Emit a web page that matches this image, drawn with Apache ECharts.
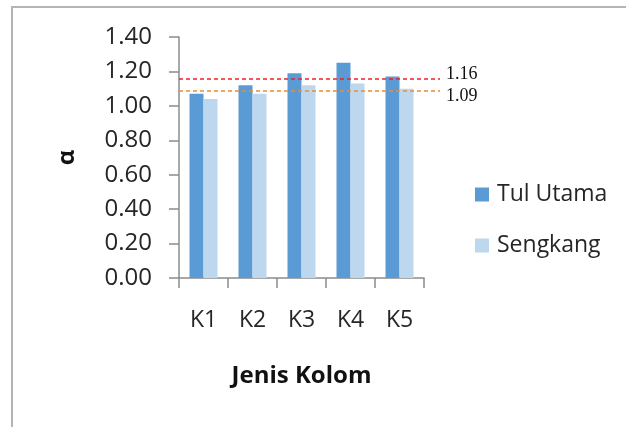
<!DOCTYPE html>
<html>
<head>
<meta charset="utf-8">
<script src="https://cdn.jsdelivr.net/npm/echarts@6/dist/echarts.min.js"></script>
<style>
  html, body { margin: 0; padding: 0; background: #ffffff; }
  #chart { width: 626px; height: 427px; }
</style>
</head>
<body>
<div id="chart"></div>
<script>
// Column types and the alpha factor for each reinforcement type
const categories = ['K1', 'K2', 'K3', 'K4', 'K5'];
const tulUtama = [1.07, 1.12, 1.19, 1.25, 1.17];
const sengkang = [1.04, 1.07, 1.12, 1.13, 1.10];
// Average reference levels drawn as dashed lines
const avgTulUtama = 1.16;
const avgSengkang = 1.09;
const yTicks = [0, 0.2, 0.4, 0.6, 0.8, 1.0, 1.2, 1.4];

const FONT = '"Open Sans", Lato, sans-serif';
const AXIS_COLOR = '#8c8c8c';
const yMax = yTicks[yTicks.length - 1];

const chart = echarts.init(document.getElementById('chart'), null, { renderer: 'canvas' });

chart.setOption({
  animation: false,
  backgroundColor: '#ffffff',
  graphic: [{
    type: 'rect',
    shape: { x: 12, y: 7, width: 800, height: 600 },
    style: { fill: 'none', stroke: '#b4b4b4', lineWidth: 2 },
    silent: true,
    z: 0
  }],
  grid: [
    { left: 179, right: 202, top: 37, bottom: 149 },
    // wider band used only for the average lines, which run past the plot
    { left: 179, right: 186, top: 37, bottom: 149 }
  ],
  legend: {
    data: ['Tul Utama', 'Sengkang'],
    orient: 'vertical',
    left: 470,
    top: 178,
    itemWidth: 14,
    itemHeight: 14,
    itemGap: 28,
    icon: 'rect',
    textStyle: { fontFamily: FONT, fontSize: 23, color: '#262626', padding: [0, 0, 0, 3] }
  },
  xAxis: [{
    type: 'category',
    gridIndex: 0,
    data: categories,
    name: 'Jenis Kolom',
    nameLocation: 'middle',
    nameGap: 86,
    nameTextStyle: { fontFamily: FONT, fontSize: 24, fontWeight: 'bold', color: '#111111' },
    axisLine: { lineStyle: { color: AXIS_COLOR, width: 1.5 } },
    axisTick: { show: true, length: 10, lineStyle: { color: AXIS_COLOR, width: 1.5 } },
    axisLabel: { fontFamily: FONT, fontSize: 23, color: '#262626', margin: 31 },
    splitLine: { show: false }
  }, {
    type: 'value',
    gridIndex: 1,
    min: 0,
    max: 1,
    show: false
  }],
  yAxis: [{
    type: 'value',
    gridIndex: 0,
    min: 0,
    max: yMax,
    interval: 0.2,
    name: 'α',
    nameLocation: 'middle',
    nameRotate: 90,
    nameGap: 100,
    nameTextStyle: { fontFamily: FONT, fontSize: 24, fontWeight: 'bold', color: '#111111' },
    axisLine: { show: true, lineStyle: { color: AXIS_COLOR, width: 1.5 } },
    axisTick: { show: true, length: 10, lineStyle: { color: AXIS_COLOR, width: 1.5 } },
    axisLabel: {
      fontFamily: FONT, fontSize: 24, color: '#262626', margin: 27,
      formatter: v => v.toFixed(2)
    },
    splitLine: { show: false }
  }, {
    type: 'value',
    gridIndex: 1,
    min: 0,
    max: yMax,
    show: false
  }],
  series: [{
    name: 'Tul Utama',
    type: 'bar',
    xAxisIndex: 0,
    yAxisIndex: 0,
    data: tulUtama,
    barWidth: 14,
    barGap: '0%',
    itemStyle: { color: '#5b9bd5' }
  }, {
    name: 'Sengkang',
    type: 'bar',
    xAxisIndex: 0,
    yAxisIndex: 0,
    data: sengkang,
    barWidth: 14,
    barGap: '0%',
    itemStyle: { color: '#bdd7ee' }
  }, {
    name: 'avg',
    type: 'line',
    xAxisIndex: 1,
    yAxisIndex: 1,
    data: [],
    silent: true,
    markLine: {
      silent: true,
      symbol: ['none', 'none'],
      data: [{
        yAxis: avgTulUtama,
        lineStyle: { color: '#f0202a', type: [4, 3], width: 1.5 },
        label: {
          show: true, position: 'end', distance: 6, offset: [0, -4],
          formatter: avgTulUtama.toFixed(2),
          fontFamily: '"Liberation Serif", "DejaVu Serif", serif', fontSize: 18, color: '#111111'
        }
      }, {
        yAxis: avgSengkang,
        lineStyle: { color: '#f08a30', type: [4, 3], width: 1.5 },
        label: {
          show: true, position: 'end', distance: 6, offset: [0, 6],
          formatter: avgSengkang.toFixed(2),
          fontFamily: '"Liberation Serif", "DejaVu Serif", serif', fontSize: 18, color: '#111111'
        }
      }]
    }
  }]
});
</script>
</body>
</html>
